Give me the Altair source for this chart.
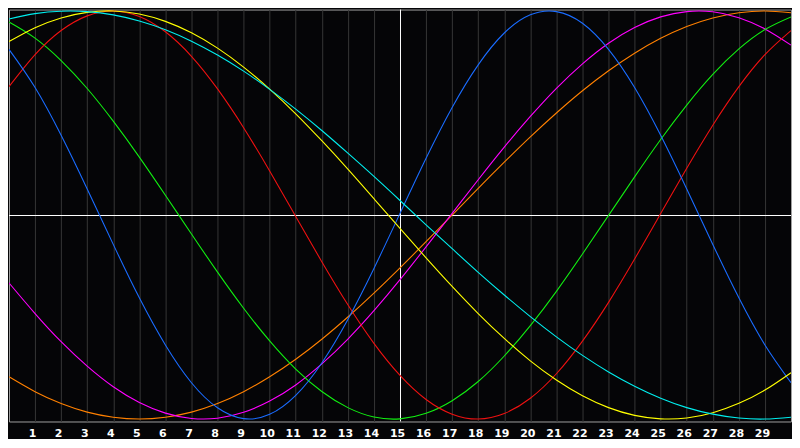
import altair as alt
import pandas as pd

days = list(range(31))

blue = [0.812, 0.625, 0.391, 0.128, -0.144, -0.406, -0.637, -0.822, -0.945, -0.998,
        -0.977, -0.884, -0.725, -0.512, -0.262, 0.008, 0.278, 0.527, 0.736, 0.892,
        0.981, 0.997, 0.940, 0.812, 0.625, 0.391, 0.128, -0.144, -0.406, -0.637, -0.822]
red = [0.629, 0.786, 0.904, 0.976, 1.000, 0.973, 0.898, 0.778, 0.618, 0.428,
       0.216, -0.007, -0.229, -0.440, -0.629, -0.786, -0.904, -0.976, -1.000, -0.973,
       -0.898, -0.778, -0.618, -0.428, -0.216, 0.007, 0.229, 0.440, 0.629, 0.786, 0.904]
green = [0.946, 0.867, 0.757, 0.620, 0.460, 0.284, 0.097, -0.093, -0.280, -0.457,
         -0.617, -0.755, -0.865, -0.944, -0.990, -0.999, -0.972, -0.910, -0.816, -0.691,
         -0.542, -0.374, -0.191, -0.002, 0.187, 0.370, 0.539, 0.689, 0.814, 0.909, 0.971]
cyan = [0.961, 0.987, 0.999, 0.997, 0.981, 0.951, 0.908, 0.852, 0.784, 0.705,
        0.616, 0.519, 0.414, 0.303, 0.189, 0.071, -0.048, -0.165, -0.281, -0.392,
        -0.498, -0.597, -0.688, -0.769, -0.839, -0.898, -0.944, -0.976, -0.995, -1.000, -0.991]
yellow = [0.850, 0.918, 0.966, 0.993, 1.000, 0.985, 0.949, 0.893, 0.818, 0.725,
          0.617, 0.496, 0.364, 0.225, 0.080, -0.066, -0.210, -0.350, -0.483, -0.605,
          -0.715, -0.809, -0.886, -0.944, -0.982, -0.999, -0.995, -0.969, -0.923, -0.858, -0.773]
magenta = [-0.333, -0.483, -0.621, -0.741, -0.842, -0.919, -0.971, -0.997, -0.996, -0.967,
           -0.912, -0.833, -0.730, -0.608, -0.469, -0.317, -0.156, 0.008, 0.173, 0.333,
           0.483, 0.621, 0.741, 0.842, 0.919, 0.971, 0.997, 0.996, 0.967, 0.912, 0.833]
orange = [-0.793, -0.866, -0.924, -0.966, -0.991, -1.000, -0.991, -0.966, -0.924, -0.866,
          -0.793, -0.707, -0.609, -0.500, -0.383, -0.259, -0.131, 0.000, 0.131, 0.259,
          0.383, 0.500, 0.609, 0.707, 0.793, 0.866, 0.924, 0.966, 0.991, 1.000, 0.991]

names = ["orange", "magenta", "green", "red", "blue", "yellow", "cyan"]
colors = ["#ff8000", "#ff00ff", "#11ee11", "#ee1111", "#1a6cff", "#ffff00", "#00eeee"]
values = [orange, magenta, green, red, blue, yellow, cyan]

tick_days = list(range(1, 30))

rows = []
for n, vals in zip(names, values):
    for d, v in zip(days, vals):
        rows.append({"day": d, "value": v, "series": n})
df = pd.DataFrame(rows)

x_scale = alt.Scale(domain=[0, 30], nice=False, zero=False)
y_scale = alt.Scale(domain=[-1.012, 1.007], nice=False, zero=False)

x_axis = alt.Axis(values=tick_days, title=None, ticks=False, domain=False,
                  grid=True, gridColor="#363636", gridWidth=1,
                  labelColor="white", labelFont="DejaVu Sans", labelFontWeight="bold",
                  labelFontSize=11, labelOffset=-3, labelPadding=6,
                  labelBound=False, labelFlush=False, labelOverlap=False)

lines = alt.Chart(df).mark_line(strokeWidth=1.1, interpolate="natural", clip=True).encode(
    x=alt.X("day:Q", scale=x_scale, axis=x_axis),
    y=alt.Y("value:Q", scale=y_scale, axis=None),
    color=alt.Color("series:N", scale=alt.Scale(domain=names, range=colors), legend=None),
    order=alt.Order("day:Q"),
)

vrule = alt.Chart(pd.DataFrame({"day": [15]})).mark_rule(
    color="white", strokeWidth=1, xOffset=0.5
).encode(
    x=alt.X("day:Q", scale=x_scale, axis=x_axis)
)
hrule = alt.Chart(pd.DataFrame({"value": [0]})).mark_rule(
    color="white", strokeWidth=1, yOffset=0.5
).encode(
    y=alt.Y("value:Q", scale=y_scale, axis=None)
)

chart = alt.layer(vrule, hrule, lines).properties(
    width=784, height=413, background="#050507", padding=0
).configure_view(fill="#050507", stroke="#a0a0a0", strokeWidth=1)

chart.save("out.html", embed_options={"renderer": "svg", "actions": False})
